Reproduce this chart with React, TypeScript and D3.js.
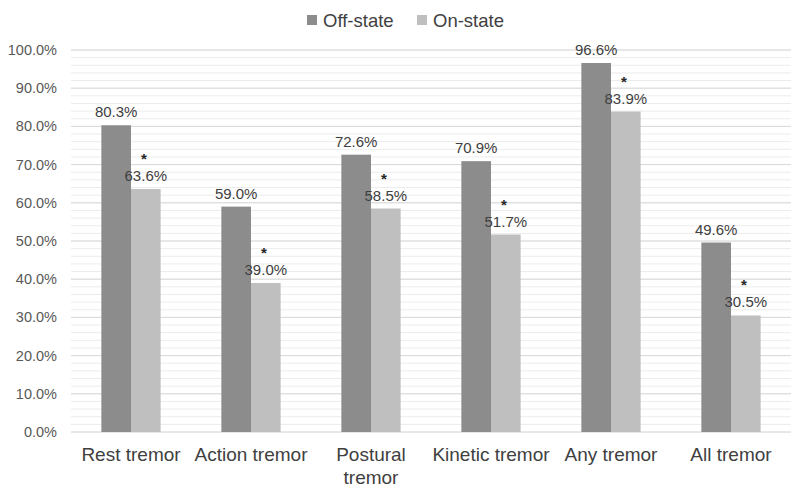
import React from "react";
import * as d3 from "d3";

const categories = ["Rest tremor", "Action tremor", "Postural tremor", "Kinetic tremor", "Any tremor", "All tremor"];
const categoryLines = [["Rest tremor"], ["Action tremor"], ["Postural", "tremor"], ["Kinetic tremor"], ["Any tremor"], ["All tremor"]];
const seriesNames = ["Off-state", "On-state"];
const offState = [80.3, 59.0, 72.6, 70.9, 96.6, 49.6];
const onState = [63.6, 39.0, 58.5, 51.7, 83.9, 30.5];
const significant = [true, true, true, true, true, true];
const yTicks = [0, 10, 20, 30, 40, 50, 60, 70, 80, 90, 100];
const minorTicks = d3.range(0, 101, 2);

const colors = ["#8c8c8c", "#bfbfbf"];
const FONT = "'Liberation Sans', Arial, Helvetica, sans-serif";

export default function App() {
  const W = 800, H = 495;
  const left = 71, right = 791, top = 50, bottom = 432;
  const x = d3.scaleBand().domain(categories).range([left, right]).paddingInner(0).paddingOuter(0);
  const y = d3.scaleLinear().domain([0, 100]).range([bottom, top]);
  const bw = x.bandwidth() * 0.247;
  const series = [offState, onState];

  return (
    <svg width={W} height={H} style={{ position: "absolute", left: 0, top: 0, background: "#fff" }} fontFamily={FONT}>
      <rect x={0} y={0} width={W} height={H} fill="#fff" />
      {minorTicks.map((t) => (
        <line key={"m" + t} x1={left} x2={right} y1={y(t)} y2={y(t)} stroke="#ececec" strokeWidth={1} />
      ))}
      {yTicks.map((t) => (
        <g key={"t" + t}>
          <line x1={left} x2={right} y1={y(t)} y2={y(t)} stroke="#d9d9d9" strokeWidth={1} />
          <text x={57} y={y(t)} dy="0.35em" textAnchor="end" fontSize={14.5} fill="#595959">
            {t.toFixed(1)}%
          </text>
        </g>
      ))}
      {categories.map((c, i) => {
        const cx = (x(c) as number) + x.bandwidth() / 2;
        return (
          <g key={c}>
            {series.map((s, k) => {
              const bx = cx - bw + k * bw;
              return (
                <g key={k}>
                  <rect x={bx} y={y(s[i])} width={bw} height={bottom - y(s[i])} fill={colors[k]} />
                  <text x={bx + bw / 2} y={y(s[i]) - 8} textAnchor="middle" fontSize={15} fill="#404040">
                    {s[i].toFixed(1)}%
                  </text>
                </g>
              );
            })}
            {significant[i] && (
              <text x={cx + bw / 2 - 2} y={y(onState[i]) - 25} textAnchor="middle" fontSize={15} fontWeight="bold" fill="#262626">
                *
              </text>
            )}
            {categoryLines[i].map((ln, j) => (
              <text key={j} x={cx} y={461 + j * 23} textAnchor="middle" fontSize={19} fill="#404040">
                {ln}
              </text>
            ))}
          </g>
        );
      })}
      {seriesNames.map((n, k) => {
        const lx = k === 0 ? 307 : 417;
        return (
          <g key={n}>
            <rect x={lx} y={15} width={10} height={10} fill={colors[k]} />
            <text x={lx + 16} y={20.5} dy="0.35em" fontSize={18.5} fill="#404040">
              {n}
            </text>
          </g>
        );
      })}
    </svg>
  );
}
